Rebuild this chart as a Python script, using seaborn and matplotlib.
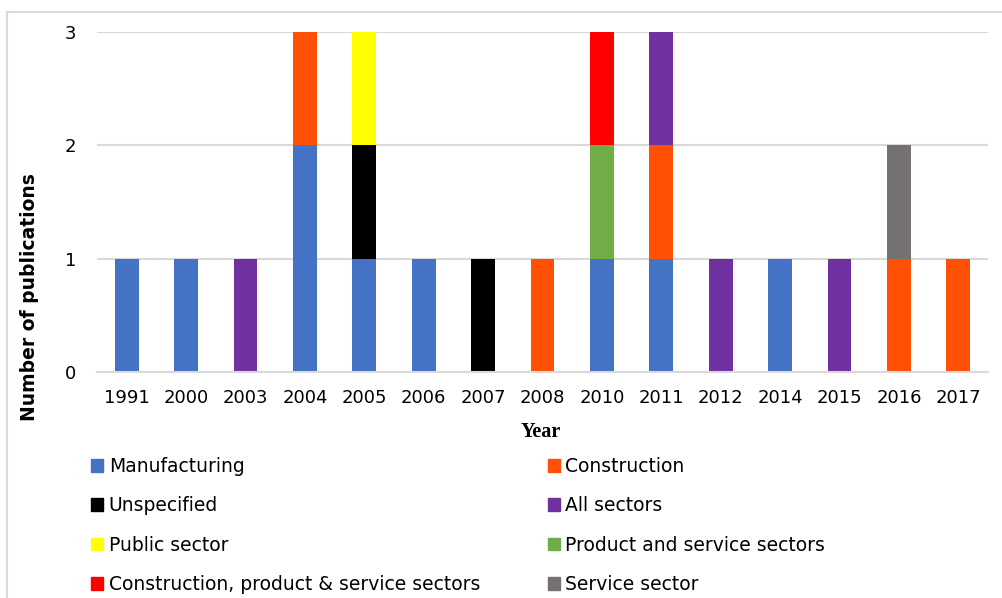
import numpy as np
import pandas as pd
import seaborn as sns
import matplotlib.pyplot as plt
from matplotlib.patches import Rectangle
from matplotlib.lines import Line2D

years = ['1991', '2000', '2003', '2004', '2005', '2006', '2007', '2008',
         '2010', '2011', '2012', '2014', '2015', '2016', '2017']

# publications per year, one list per sector (stack order bottom -> top)
manufacturing = [1, 1, 0, 2, 1, 1, 0, 0, 1, 1, 0, 1, 0, 0, 0]
construction = [0, 0, 0, 1, 0, 0, 0, 1, 0, 1, 0, 0, 0, 1, 1]
unspecified = [0, 0, 0, 0, 1, 0, 1, 0, 0, 0, 0, 0, 0, 0, 0]
all_sectors = [0, 0, 1, 0, 0, 0, 0, 0, 0, 1, 1, 0, 1, 0, 0]
public_sector = [0, 0, 0, 0, 1, 0, 0, 0, 0, 0, 0, 0, 0, 0, 0]
product_service = [0, 0, 0, 0, 0, 0, 0, 0, 1, 0, 0, 0, 0, 0, 0]
constr_prod_serv = [0, 0, 0, 0, 0, 0, 0, 0, 1, 0, 0, 0, 0, 0, 0]
service_sector = [0, 0, 0, 0, 0, 0, 0, 0, 0, 0, 0, 0, 0, 1, 0]

series = [
    ('Manufacturing', manufacturing, '#4472C4'),
    ('Construction', construction, '#FF5005'),
    ('Unspecified', unspecified, '#000000'),
    ('All sectors', all_sectors, '#7030A0'),
    ('Public sector', public_sector, '#FFFF00'),
    ('Product and service sectors', product_service, '#70AD47'),
    ('Construction, product & service sectors', constr_prod_serv, '#FF0000'),
    ('Service sector', service_sector, '#767171'),
]

sns.set_style('white')
plt.rcParams['font.family'] = ['DejaVu Sans']
plt.rcParams['text.color'] = 'black'

fig = plt.figure(figsize=(10.03, 5.98), dpi=100)
ax = fig.add_axes([97 / 1003, 1 - 372 / 598, (988 - 97) / 1003, (372 - 32) / 598])

bottom = np.zeros(len(years))
handles = {}
for name, vals, col in series:
    df = pd.DataFrame({'year': years, 'n': vals})
    sns.barplot(data=df, x='year', y='n', bottom=bottom, color=col,
                width=0.4, ax=ax, saturation=1, linewidth=0, errorbar=None)
    handles[name] = Rectangle((0, 0), 1, 1, color=col)
    bottom += np.array(vals)

ax.set_ylim(0, 3)
ax.set_xlim(-0.5, len(years) - 0.5)
ax.set_yticks([0, 1, 2, 3])
ax.yaxis.grid(True, color='#D9D9D9', linewidth=1.5)
ax.set_axisbelow(True)
for s in ['top', 'right', 'left']:
    ax.spines[s].set_visible(False)
ax.spines['bottom'].set_color('#D9D9D9')
ax.spines['bottom'].set_linewidth(1.5)
ax.tick_params(axis='both', length=0, labelsize=13, colors='black')
ax.tick_params(axis='y', pad=15)
ax.tick_params(axis='x', pad=12)
ax.set_xlabel('')
ax.set_ylabel('')

fig.text(30 / 1003, 1 - 297 / 598, 'Number of publications', rotation=90,
         ha='center', va='center', fontsize=13.5, fontweight='bold')
fig.text(541 / 1003, 1 - 432 / 598, 'Year', ha='center', va='center',
         fontsize=14.5, fontweight='bold', family='Liberation Serif')

order = ['Manufacturing', 'Unspecified', 'Public sector',
         'Construction, product & service sectors',
         'Construction', 'All sectors', 'Product and service sectors',
         'Service sector']
fig.legend([handles[k] for k in order], order, ncol=2, frameon=False,
           loc='upper left', bbox_to_anchor=(74 / 1003, 1 - 440 / 598),
           fontsize=13.5, handlelength=0.65, handleheight=0.65, handletextpad=0.3,
           labelspacing=1.09, columnspacing=3.6, labelcolor='black')

# light frame: top and left edges only
fig.add_artist(Line2D([7 / 1003, 1], [1 - 12 / 598, 1 - 12 / 598],
                      transform=fig.transFigure, color='#D9D9D9', linewidth=1.5))
fig.add_artist(Line2D([7 / 1003, 7 / 1003], [0, 1 - 12 / 598],
                      transform=fig.transFigure, color='#D9D9D9', linewidth=1.5))

fig.savefig('out.png', dpi=100)
